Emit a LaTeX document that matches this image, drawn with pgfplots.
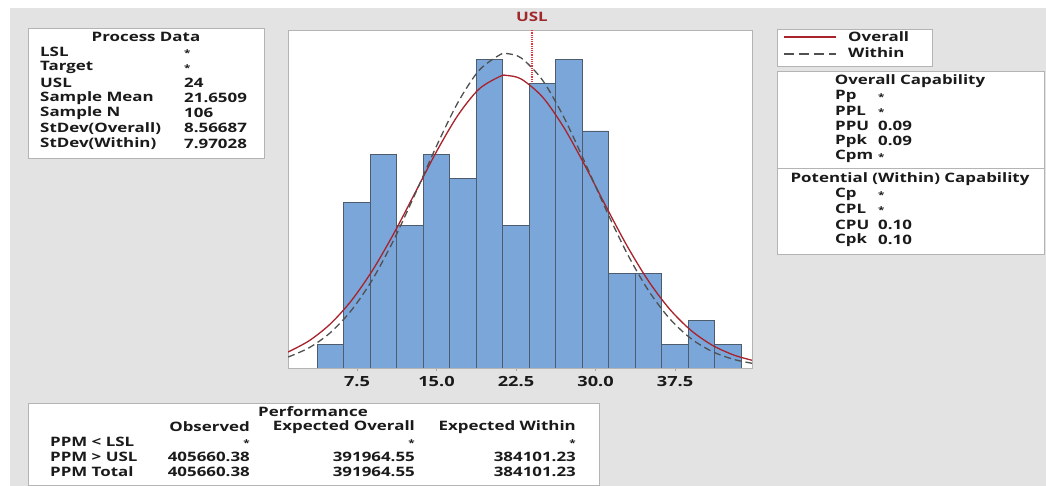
\documentclass[border=0pt]{standalone}
\usepackage{pgfplots}
\pgfplotsset{compat=1.18}
\usepackage{fontspec}
\setmainfont{Open Sans}[FakeStretch=1.3]
\definecolor{bg}{HTML}{E3E3E3}
\definecolor{boxline}{HTML}{B4B4B4}
\definecolor{barfill}{HTML}{7BA6DA}
\definecolor{baredge}{HTML}{4E5D6E}
\definecolor{ovr}{HTML}{A8232B}
\definecolor{wth}{HTML}{505050}
\definecolor{usl}{HTML}{E8343A}
\definecolor{usltxt}{HTML}{A0282C}
\definecolor{txt}{HTML}{1A1A1A}
\newcommand{\f}{\fontsize{13}{14}\selectfont\bfseries\color{txt}}
\newcommand{\st}{{\fontsize{9}{9}\selectfont *}}

\begin{document}
\begin{tikzpicture}
\begin{scope}[x=1pt,y=-1pt,yshift=486pt]
\fill[white] (0,0) rectangle (1046,486);
\fill[bg] (10,8) rectangle (1046,486);
% Process data box
\filldraw[fill=white,draw=boxline] (28,28) rectangle (264,158);
\node[inner sep=0] at (146,37) {\f Process Data};
\foreach \t/\v/\y in {LSL/\st/52, Target/\st/67.3, USL/24/82.6, Sample Mean/21.6509/97.9, Sample N/106/113.2, StDev(Overall)/8.56687/128.5, StDev(Within)/7.97028/143.8}{
  \node[anchor=west,inner sep=0] at (40,\y) {\f \t};
  \node[anchor=base west,inner sep=0] at (184,\y+4.5) {\f \v};
}
% legend box
\filldraw[fill=white,draw=boxline] (777,29) rectangle (932,66);
\draw[ovr,line width=1.3pt] (784,37) -- (836,37);
\draw[wth,line width=1.3pt,dash pattern=on 10pt off 5pt] (784,54) -- (836,54);
\node[anchor=west,inner sep=0] at (848,37) {\f Overall};
\node[anchor=west,inner sep=0] at (848,53) {\f Within};
% capability box
\filldraw[fill=white,draw=boxline] (777,71) rectangle (1044,254);
\draw[boxline] (777,168) -- (1044,168);
\node[inner sep=0] at (910,81) {\f Overall Capability};
\foreach \t/\v/\y in {Pp/\st/96, PPL/\st/111, PPU/0.09/126, Ppk/0.09/141, Cpm/\st/156, Cp/\st/194, CPL/\st/209, CPU/0.10/225, Cpk/0.10/240}{
  \node[anchor=west,inner sep=0] at (835,\y) {\f \t};
  \node[anchor=base west,inner sep=0] at (878,\y+4.5) {\f \v};
}
\node[inner sep=0] at (910,179) {\f Potential (Within) Capability};
% performance box
\filldraw[fill=white,draw=boxline] (28,403) rectangle (599,485);
\node[inner sep=0] at (313,412) {\f Performance};
\node[anchor=east,inner sep=0] at (250,427) {\f Observed};
\node[anchor=east,inner sep=0] at (415,427) {\f Expected Overall};
\node[anchor=east,inner sep=0] at (576,427) {\f Expected Within};
\foreach \t/\a/\b/\c/\y in {PPM < LSL/\st/\st/\st/442, PPM > USL/405660.38/391964.55/384101.23/457, PPM Total/405660.38/391964.55/384101.23/472}{
  \node[anchor=west,inner sep=0] at (50,\y) {\f \t};
  \node[anchor=base east,inner sep=0] at (250,\y+4.5) {\f \a};
  \node[anchor=base east,inner sep=0] at (415,\y+4.5) {\f \b};
  \node[anchor=base east,inner sep=0] at (576,\y+4.5) {\f \c};
}
\end{scope}

\begin{axis}[at={(288pt,118pt)}, anchor=south west, scale only axis,
  width=464pt, height=338pt,
  xmin=0.99, xmax=44.76, ymin=0, ymax=14.26,
  axis background/.style={fill=white},
  axis line style={draw=boxline},
  ytick=\empty,
  xtick={7.5,15,22.5,30,37.5},
  xticklabels={7.5,15.0,22.5,30.0,37.5},
  xtick pos=bottom, tick align=outside, major tick length=3pt,
  tick style={draw=gray!70},
  xticklabel style={font=\fontsize{14}{14}\selectfont\bfseries\color{txt}, yshift=-2pt},
  clip mode=individual]
\addplot[usl, densely dotted, line width=1.2pt] coordinates {(24,0) (24,14.26)};
\addplot[ybar interval, fill=barfill, draw=baredge, line width=0.8pt] coordinates {
 (3.75,1) (6.25,7) (8.75,9) (11.25,6) (13.75,9) (16.25,8) (18.75,13) (21.25,6)
 (23.75,12) (26.25,13) (28.75,10) (31.25,4) (33.75,4) (36.25,1) (38.75,2) (41.25,1) (43.75,1)};
\addplot[ovr, smooth, line width=1.3pt] table[row sep=\\] {
x y\\
1 0.6754\\ 3 1.1537\\ 5 1.8664\\ 7 2.8590\\ 9 4.1476\\ 11 5.6975\\ 13 7.4115\\
15 9.1296\\ 17 10.6495\\ 19 11.7636\\ 21 12.3049\\ 21.6509 12.3405\\ 23 12.1884\\
25 11.4326\\ 27 10.1548\\ 29 8.5414\\ 31 6.8033\\ 33 5.1314\\ 35 3.6652\\
37 2.4789\\ 39 1.5877\\ 41 0.9629\\ 43 0.5531\\ 44.76 0.326\\
};
\addplot[wth, smooth, line width=1.3pt, dash pattern=on 7pt off 4pt] table[row sep=\\] {
x y\\
1 0.4623\\ 3 0.8583\\ 5 1.4961\\ 7 2.4488\\ 9 3.7636\\ 11 5.4313\\ 13 7.3598\\
15 9.3644\\ 17 11.1878\\ 19 12.5506\\ 21 13.2201\\ 21.6509 13.2643\\ 23 13.0756\\
25 12.1435\\ 27 10.5895\\ 29 8.6709\\ 31 6.6666\\ 33 4.8129\\ 35 3.2625\\
37 2.0766\\ 39 1.2411\\ 41 0.6965\\ 43 0.3670\\ 44.76 0.199\\
};
\node[inner sep=0, yshift=13pt, font=\fontsize{13}{13}\selectfont\bfseries, text=usltxt] at (axis cs:24,14.26) {USL};
\end{axis}
\end{tikzpicture}
\end{document}
